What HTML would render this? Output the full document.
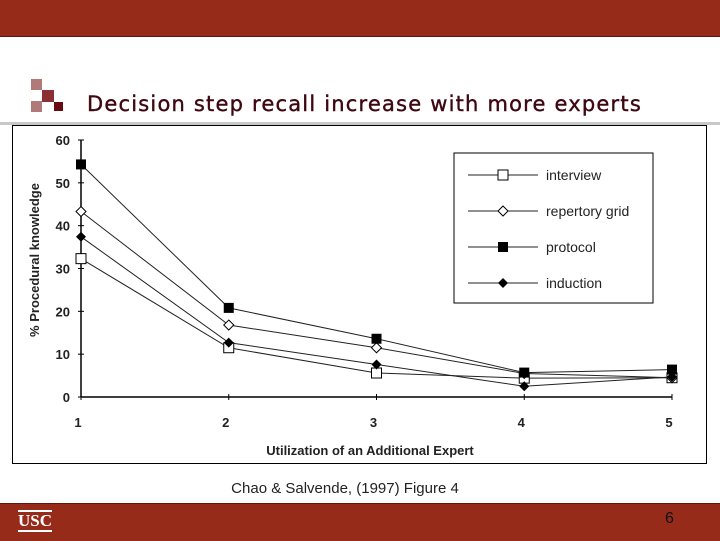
<!DOCTYPE html>
<html><head><meta charset="utf-8"><style>
body{margin:0;width:720px;height:540px;background:#fff;position:relative;overflow:hidden;font-family:"Liberation Sans",sans-serif}
.abs{position:absolute}
</style></head><body>
<div class="abs" style="left:0;top:0;width:720px;height:36px;background:#962b1a;border-bottom:1px solid #5a1a10"></div>
<div class="abs" style="left:31px;top:79px;width:36px;height:34px">
 <div class="abs" style="left:0;top:0;width:11px;height:11px;background:#b07a7a"></div>
 <div class="abs" style="left:11px;top:11px;width:12px;height:12px;background:#8a3035"></div>
 <div class="abs" style="left:0;top:22px;width:11px;height:11px;background:#b07a7a"></div>
 <div class="abs" style="left:23px;top:23px;width:9px;height:9px;background:#6a0a10"></div>
</div>
<div class="abs" style="left:87px;top:92px;font-family:'DejaVu Sans',sans-serif;font-size:21px;letter-spacing:1.2px;color:#3e0812;white-space:nowrap;-webkit-text-stroke:0.4px #3e0812">Decision step recall increase with more experts</div>
<div class="abs" style="left:0;top:122px;width:720px;height:3px;background:#c8c8c8"></div>
<div class="abs" style="left:12px;top:125px;width:695px;height:339px;border:1px solid #000;box-sizing:border-box"></div>
<svg class="abs" style="left:0;top:0" width="720" height="540">
<g id="g" font-family="Liberation Sans, sans-serif" font-weight="bold" font-size="13" fill="#222"></g>
</svg>
<div class="abs" style="left:0;width:690px;top:480px;text-align:center;font-size:15px;color:#222">Chao &amp; Salvende, (1997) Figure 4</div>
<div class="abs" style="left:0;top:503px;width:720px;height:37px;background:#962b1a;border-top:1px solid #5a1a10"></div>
<div class="abs" style="left:18px;top:510px;font-family:'Liberation Serif',serif;font-weight:bold;font-size:17px;color:#fff;border-top:2px solid #fff;border-bottom:2px solid #fff;line-height:18px">USC</div>
<div class="abs" style="left:665px;top:510px;font-size:16px;color:#111">6</div>
<script>
const categories=[1,2,3,4,5];
const yTicks=[0,10,20,30,40,50,60];
const interview=[32.3,11.5,5.6,4.4,4.5];
const repertory=[43.3,16.8,11.5,5.5,4.5];
const protocol=[54.3,20.8,13.6,5.7,6.4];
const induction=[37.4,12.7,7.6,2.5,4.7];
const names=["interview","repertory grid","protocol","induction"];
const NS="http://www.w3.org/2000/svg";
const g=document.getElementById('g');
const X=c=>81+(c-1)*147.75;
const Y=v=>397-v*(257/60);
function el(t,a){const e=document.createElementNS(NS,t);for(const k in a)e.setAttribute(k,a[k]);g.appendChild(e);return e;}
let ax=el('line',{x1:81,y1:Y(60),x2:81,y2:397,stroke:'#000','stroke-width':1.5});


let bx=el('line',{x1:81,y1:397,x2:X(5),y2:397,stroke:'#000','stroke-width':1.5});


yTicks.forEach(v=>{el('line',{x1:78,x2:84,y1:Y(v),y2:Y(v),stroke:'#000'});
 const t=el('text',{x:70,y:Y(v)+5,'text-anchor':'end'});t.textContent=v;
 
 });
categories.forEach(c=>{el('line',{x1:X(c),x2:X(c),y1:394,y2:400,stroke:'#000'});
 const t=el('text',{x:X(c)-3,y:427,'text-anchor':'middle'});t.textContent=c;
 
 });
let yt=el('text',{transform:'translate(39,260) rotate(-90)','text-anchor':'middle'});yt.textContent='% Procedural  knowledge';


let xt=el('text',{x:370,y:455,'text-anchor':'middle'});xt.textContent='Utilization of an Additional  Expert';


function marker(type,x,y){
 if(type==0)return el('rect',{x:x-5,y:y-5,width:10,height:10,fill:'#fff',stroke:'#000'});
 if(type==1)return el('polygon',{points:`${x},${y-5} ${x+5},${y} ${x},${y+5} ${x-5},${y}`,fill:'#fff',stroke:'#000'});
 if(type==2)return el('rect',{x:x-5,y:y-5,width:10,height:10,fill:'#000'});
 return el('polygon',{points:`${x},${y-5} ${x+5},${y} ${x},${y+5} ${x-5},${y}`,fill:'#000'});
}
[interview,repertory,protocol,induction].forEach((s,i)=>{
 const p=el('polyline',{points:s.map((v,j)=>X(categories[j])+','+Y(v)).join(' '),fill:'none',stroke:'#222','stroke-width':1});
 
 
 s.forEach((v,j)=>{const m=marker(i,X(categories[j]),Y(v));
  
  });
});
let lb=el('rect',{x:454,y:153,width:199,height:150,fill:'#fff',stroke:'#000'});


names.forEach((n,i)=>{const y=175+i*36;
 el('line',{x1:468,x2:538,y1:y,y2:y,stroke:'#222'});marker(i,503,y);
 const t=el('text',{x:546,y:y+5,'font-weight':'normal','font-size':14});t.textContent=n;
 
 });
</script>
</body></html>
